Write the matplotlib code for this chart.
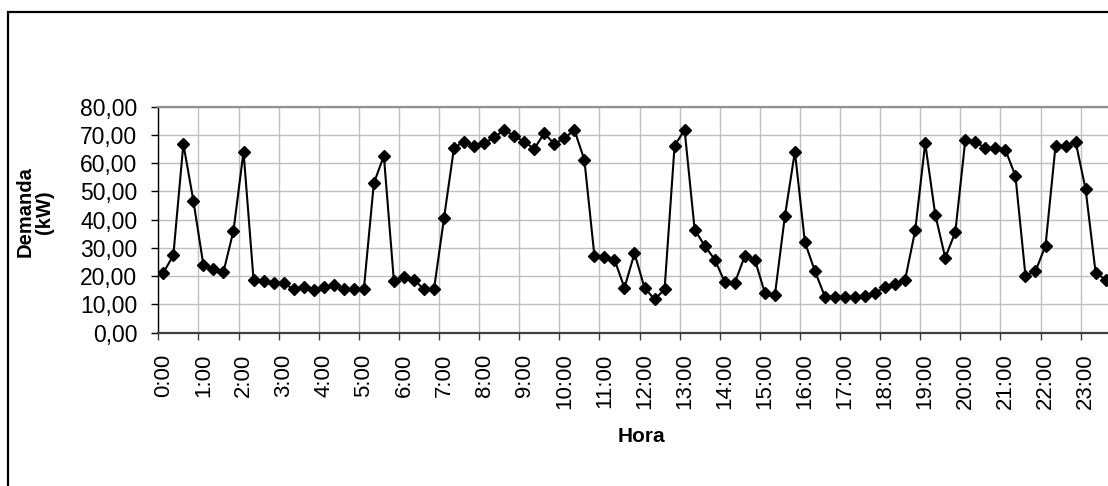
import matplotlib.pyplot as plt
from matplotlib.patches import Rectangle

# Demanda cada 15 minutos (kW)
demanda = [
    21.2, 27.4, 66.8, 46.7, 23.9, 22.4, 21.5, 36.1,
    64.1, 18.8, 18.2, 17.6, 17.6, 15.3, 16.1, 15.1,
    16.1, 16.8, 15.5, 15.3, 15.3, 52.9, 62.6, 18.3,
    19.6, 18.8, 15.3, 15.3, 40.6, 65.5, 67.6, 66.1,
    67.1, 69.1, 71.8, 69.6, 67.6, 65.1, 70.6, 66.8,
    68.8, 71.8, 61.2, 27.3, 26.7, 25.9, 15.9, 28.1,
    15.9, 11.8, 15.3, 66.2, 71.8, 36.5, 30.8, 25.9,
    18.0, 17.6, 27.1, 25.9, 14.1, 13.2, 41.2, 64.1,
    32.0, 21.8, 12.7, 12.7, 12.7, 12.7, 12.9, 14.2,
    16.1, 17.1, 18.8, 36.2, 67.1, 41.8, 26.5, 35.6,
    68.2, 67.6, 65.3, 65.3, 64.7, 55.5, 20.2, 21.8,
    30.8, 66.2, 66.2, 67.6, 50.8, 21.2, 18.8,
]
horas = ["%d:00" % h for h in range(24)]
n_cat = 96

plt.rcParams['font.family'] = ['Liberation Sans', 'DejaVu Sans']

fig = plt.figure(figsize=(11.08, 4.86), dpi=100)

# marco exterior del grafico (recortado a la derecha y abajo)
fig.patches.append(Rectangle((8 / 1108, -0.1), 1.2, (486 - 12) / 486 + 0.1,
                             transform=fig.transFigure, fill=False,
                             edgecolor='black', linewidth=1.6))

ax = fig.add_axes([158.3 / 1108, 153.3 / 486, 962.4 / 1108, 226 / 486])

x = list(range(len(demanda)))
ax.plot(x, demanda, color='black', linewidth=1.5, marker='D',
        markersize=6, markerfacecolor='black', markeredgecolor='black',
        zorder=3)

ax.set_xlim(-0.5, n_cat - 0.5)
ax.set_ylim(0, 80)

# ticks de horas en los limites de categoria, etiquetas centradas
ax.set_xticks([-0.5 + 4 * k for k in range(25)])
ax.set_xticklabels([])
ax.set_xticks([4 * k for k in range(24)], minor=True)
ax.set_xticklabels(horas, minor=True, rotation=90, fontsize=16)
ax.tick_params(axis='x', which='major', direction='out', length=5,
               width=1, color='#404040')
ax.tick_params(axis='x', which='minor', length=0, pad=15)

ax.set_yticks(range(0, 81, 10))
ax.set_yticklabels(["%d,00" % v for v in range(0, 81, 10)], fontsize=16.5)
ax.tick_params(axis='y', direction='out', length=5, width=1, color='black',
               pad=10)

ax.grid(True, which='major', color='#c0c0c0', linewidth=1)
ax.set_axisbelow(True)

ax.spines['left'].set_color('black')
ax.spines['left'].set_linewidth(1)
ax.spines['bottom'].set_color('#404040')
ax.spines['bottom'].set_linewidth(1.6)
ax.spines['top'].set_color('#909090')
ax.spines['top'].set_linewidth(1.6)
ax.spines['right'].set_color('#909090')

fig.text(641 / 1108, 1 - 437 / 486, "Hora", fontsize=15, fontweight='bold',
         ha='center', va='center')
fig.text(35 / 1108, 1 - 212 / 486, "Demanda\n(kW)", fontsize=14.5,
         fontweight='bold', rotation=90, ha='center', va='center',
         multialignment='center', linespacing=1.0)

fig.savefig("out.png", dpi=100)
